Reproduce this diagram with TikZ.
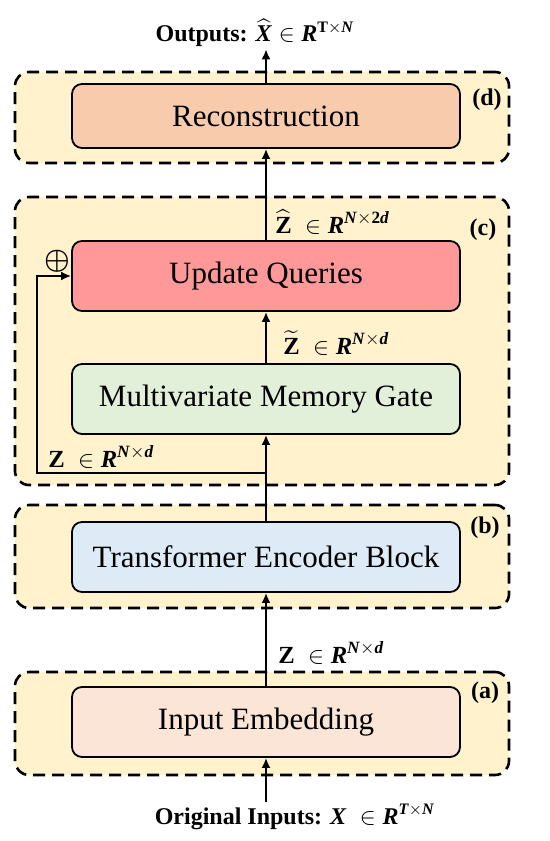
\documentclass[tikz,border=0pt]{standalone}
\usepackage{amsmath,amssymb}
\usepackage{fontspec}
\setmainfont{Liberation Serif}
\usetikzlibrary{positioning,arrows.meta}

\definecolor{groupfill}{HTML}{FFF2CC}
\definecolor{recfill}{HTML}{F8CBAD}
\definecolor{uqfill}{HTML}{FF9999}
\definecolor{mmgfill}{HTML}{E2F0D9}
\definecolor{trfill}{HTML}{DEEBF7}
\definecolor{embfill}{HTML}{FBE5D6}
\newcommand{\bi}[1]{\textbf{\textit{#1}}}

\begin{document}
\begin{tikzpicture}[x=0.5pt,y=-0.5pt,
group/.style={draw, line width=1.3pt, dash pattern=on 6pt off 3.5pt, rounded corners=7pt, fill=groupfill, minimum width=247pt, inner sep=0pt},
block/.style={draw, line width=0.9pt, rounded corners=5pt, minimum width=194pt, minimum height=35pt, inner sep=0pt, font=\fontsize{15.5}{18}\selectfont},
tag/.style={font=\fontsize{12}{14}\selectfont\bfseries},
dim/.style={anchor=west, font=\fontsize{12.3}{14}\selectfont, inner sep=0pt},
arr/.style={line width=1.2pt, -{Latex[length=5pt,width=4.5pt]}},
]
\useasboundingbox (0,0) rectangle (550,841);

\node[group, minimum height=45.5pt] (gd) at (262,117.5) {};
\node[group, minimum height=144pt] (gc) at (262,341) {};
\node[group, minimum height=51.5pt] (gb) at (262,556.5) {};
\node[group, minimum height=51.5pt] (ga) at (262,723.5) {};

\node[tag] (td) at (487,100) {(d)};
\node[tag] (tc) at (483,230) {(c)};
\node[tag] (tb) at (485,528) {(b)};
\node[tag] (ta) at (485,693) {(a)};

\node[block, fill=recfill, minimum height=32pt] (rec) at (266,116) {Reconstruction};
\node[block, fill=uqfill] (uq) at (266,276) {Update Queries};
\node[block, fill=mmgfill] (mmg) at (266,399) {Multivariate Memory Gate};
\node[block, fill=trfill] (tr) at (266,557) {Transformer Encoder Block};
\node[block, fill=embfill] (emb) at (266,722) {Input Embedding};

\node[font=\fontsize{12}{14}\selectfont, inner sep=1pt] (outlbl) at (255,33)
  {\textbf{Outputs:} $\widehat{\bi{X}}\in\bi{R}^{\textbf{T}\times\bi{N}}$};
\node[font=\fontsize{12}{14}\selectfont, inner sep=1pt] (inlbl) at (295,817)
  {\textbf{Original Inputs:} $\bi{X}\;\in\bi{R}^{\bi{T}\times\bi{N}}$};
\node[font=\fontsize{15}{16}\selectfont, inner sep=0pt] (plus) at (57,261) {$\boldsymbol{\oplus}$};

\coordinate (split) at (266,473);
\coordinate (turn) at (37,473);

\draw[arr] (inlbl.north -| emb.south) -- (emb.south);
\draw[arr] (emb.north) -- (tr.south);
\draw[arr] (tr.north) -- (mmg.south);
\draw[arr] (split) -- (turn) |- (uq.west);
\draw[arr] (mmg.north) -- (uq.south);
\draw[arr] (uq.north) -- (rec.south);
\draw[arr] (rec.north) -- (rec.north |- outlbl.south);

\node[dim] (zemb) at (278,653) {$\textbf{Z}\;\in\bi{R}^{\bi{N}\times\bi{d}}$};
\node[dim] (zskip) at (48,457) {$\textbf{Z}\;\in\bi{R}^{\bi{N}\times\bi{d}}$};
\node[dim] (ztil) at (283,343) {$\widetilde{\textbf{Z}}\;\in\bi{R}^{\bi{N}\times\bi{d}}$};
\node[dim] (zhat) at (275,222) {$\widehat{\textbf{Z}}\;\in\bi{R}^{\bi{N}\times\textbf{2}\bi{d}}$};
\end{tikzpicture}
\end{document}
